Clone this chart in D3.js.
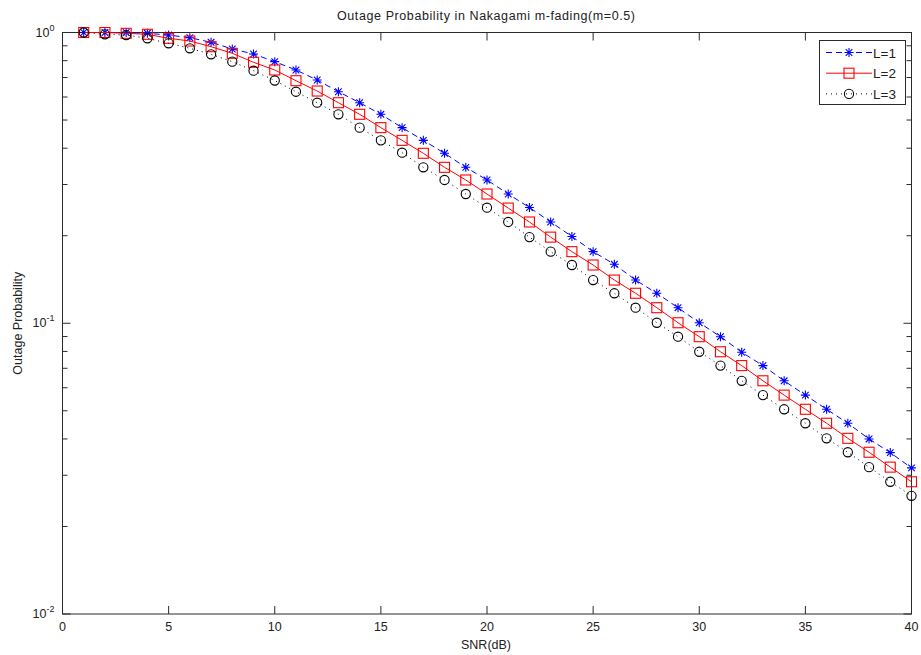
<!DOCTYPE html>
<html><head><meta charset="utf-8">
<script src="https://cdn.jsdelivr.net/npm/d3@7"></script>
<style>body{margin:0;background:#fff}svg{display:block}text{font-family:"Liberation Sans",Arial,sans-serif;fill:#222}</style>
</head><body><svg id="c" width="921" height="655"></svg>
<script>
const snr = d3.range(1, 41);
const L1 = [1.0,1.0,1.0,0.9937,0.980,0.9597,0.9254,0.8776,0.8435,0.7937,0.7431,0.6864,0.6256,0.5735,0.5232,0.4707,0.4257,0.3842,0.3438,0.3110,0.2783,0.2501,0.2230,0.1988,0.1763,0.1595,0.1408,0.1268,0.1131,0.1004,0.0899,0.0795,0.0715,0.0634,0.0566,0.0506,0.0453,0.0400,0.0359,0.0318];
const L2 = [1.0,1.0,0.9937,0.9858,0.9551,0.9349,0.8937,0.8482,0.7899,0.7431,0.6826,0.6291,0.5735,0.5232,0.4707,0.4257,0.3842,0.3438,0.3110,0.2783,0.2490,0.2230,0.1978,0.1763,0.1586,0.1408,0.1268,0.1131,0.1004,0.0899,0.0798,0.0715,0.0634,0.0566,0.0506,0.0453,0.0402,0.0360,0.0320,0.0285];
const L3 = [1.0,0.9858,0.980,0.9551,0.9182,0.8825,0.8415,0.7937,0.7390,0.6837,0.6256,0.5735,0.5232,0.4707,0.4257,0.3860,0.3438,0.3110,0.2783,0.2497,0.2230,0.1978,0.1763,0.1586,0.1408,0.1268,0.1131,0.1004,0.0899,0.0798,0.0715,0.0634,0.0566,0.0506,0.0453,0.0402,0.0360,0.0320,0.0285,0.0255];
const seriesNames = ["L=1","L=2","L=3"];
const xTicks = [0,5,10,15,20,25,30,35,40];
const yMajor = [1,0.1,0.01];
const yExp = ["0","-1","-2"];
const title = "Outage Probability in Nakagami m-fading(m=0.5)";
const xLabel = "SNR(dB)", yLabel = "Outage Probability";

const svg = d3.select("#c");
const pL = 62.5, pR = 911.5, pT = 32.5, pB = 614;
const x = d3.scaleLinear().domain([0,40]).range([pL,pR]);
const y = d3.scaleLog().domain([0.01,1]).range([pB,pT]);
const axisCol = "#2a2a2a";

const g = svg.append("g");
xTicks.forEach(t => {
  g.append("line").attr("x1",x(t)).attr("x2",x(t)).attr("y1",pB).attr("y2",pB-8).attr("stroke",axisCol);
  g.append("line").attr("x1",x(t)).attr("x2",x(t)).attr("y1",pT).attr("y2",pT+8).attr("stroke",axisCol);
  g.append("text").attr("x",x(t)).attr("y",pB+17).attr("text-anchor","middle").attr("font-size",12.5).text(t);
});
const minor = [];
[0.01,0.1].forEach(b => { for (let k=2;k<=9;k++) minor.push(b*k); });
minor.forEach(v => {
  g.append("line").attr("x1",pL).attr("x2",pL+5).attr("y1",y(v)).attr("y2",y(v)).attr("stroke",axisCol);
  g.append("line").attr("x1",pR).attr("x2",pR-5).attr("y1",y(v)).attr("y2",y(v)).attr("stroke",axisCol);
});
yMajor.forEach((v,i) => {
  g.append("line").attr("x1",pL).attr("x2",pL+8).attr("y1",y(v)).attr("y2",y(v)).attr("stroke",axisCol);
  g.append("line").attr("x1",pR).attr("x2",pR-8).attr("y1",y(v)).attr("y2",y(v)).attr("stroke",axisCol);
  const t = g.append("text").attr("x",pL-8).attr("y",y(v)+4).attr("text-anchor","end").attr("font-size",12.5);
  t.append("tspan").text("10");
  t.append("tspan").attr("dy",-6).attr("font-size",9).text(yExp[i]);
});
g.append("rect").attr("x",pL).attr("y",pT).attr("width",pR-pL).attr("height",pB-pT).attr("fill","none").attr("stroke",axisCol).attr("stroke-width",1);

svg.append("text").attr("x",(pL+pR)/2 - 1).attr("y",20).attr("text-anchor","middle").attr("font-size",12.5)
  .attr("textLength",298).attr("lengthAdjust","spacing").text(title);
svg.append("text").attr("x",(pL+pR)/2 - 1).attr("y",649).attr("text-anchor","middle").attr("font-size",12.5).text(xLabel);
svg.append("text").attr("transform",`translate(22,${(pT+pB)/2}) rotate(-90)`).attr("text-anchor","middle").attr("font-size",12.5).text(yLabel);

const cfg = [
  {data:L1, color:"#0000ff", dash:"6,4", marker:"star"},
  {data:L2, color:"#ff0000", dash:null, marker:"square"},
  {data:L3, color:"#000000", dash:"1,4", marker:"circle"}
];
const line = d3.line().x((d,i)=>x(snr[i])).y(d=>y(d));
function drawMarker(sel, type, cx, cy, color) {
  if (type==="star") {
    const r=4.5, r2=3.3;
    sel.append("path").attr("d",`M${cx-r},${cy}H${cx+r}M${cx},${cy-r}V${cy+r}M${cx-r2},${cy-r2}L${cx+r2},${cy+r2}M${cx-r2},${cy+r2}L${cx+r2},${cy-r2}`)
      .attr("stroke",color).attr("stroke-width",1.1).attr("fill","none");
  } else if (type==="square") {
    sel.append("rect").attr("x",cx-5).attr("y",cy-5).attr("width",10).attr("height",10).attr("fill","none").attr("stroke",color).attr("stroke-width",1.1);
  } else {
    sel.append("circle").attr("cx",cx).attr("cy",cy).attr("r",4.6).attr("fill","none").attr("stroke",color).attr("stroke-width",1.1);
  }
}
cfg.forEach(c => {
  const p = svg.append("path").datum(c.data).attr("d",line).attr("fill","none").attr("stroke",c.color).attr("stroke-width",1);
  if (c.dash) p.attr("stroke-dasharray",c.dash);
  const mg = svg.append("g");
  c.data.forEach((v,i) => drawMarker(mg, c.marker, x(snr[i]), y(v), c.color));
});

const lg = svg.append("g");
lg.append("rect").attr("x",819.5).attr("y",40.5).attr("width",86).attr("height",64).attr("fill","#fff").attr("stroke",axisCol);
cfg.forEach((c,i) => {
  const yy = 52.5 + i*20.7;
  const l = lg.append("line").attr("x1",826).attr("x2",872).attr("y1",yy).attr("y2",yy).attr("stroke",c.color).attr("stroke-width",1);
  if (c.dash) l.attr("stroke-dasharray",c.dash);
  drawMarker(lg, c.marker, 849, yy, c.color);
  lg.append("text").attr("x",873).attr("y",yy+5).attr("font-size",13.5).text(seriesNames[i]);
});
</script></body></html>
